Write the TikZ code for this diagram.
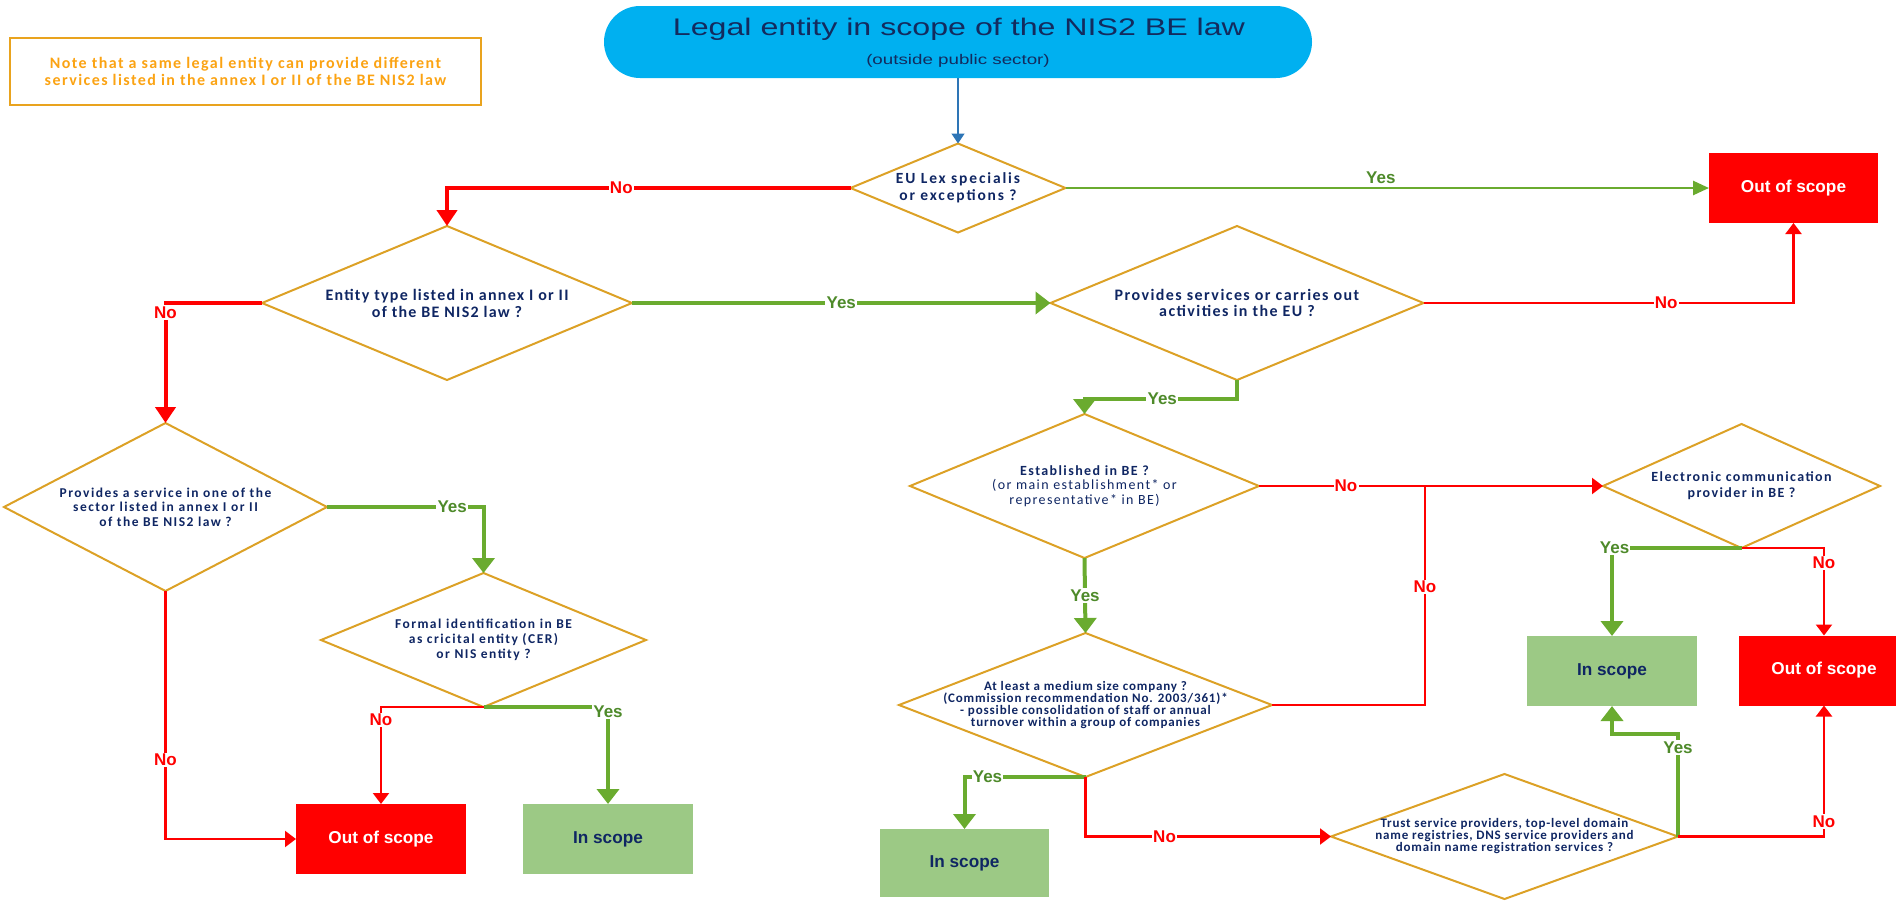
\documentclass[tikz,border=0pt]{standalone}
\usepackage{fontspec}
\usetikzlibrary{shapes.geometric,arrows.meta}
\newfontfamily\carfont{Carlito}
\newfontfamily\arfont{Liberation Sans}
% question text: size, leading, letter spacing
\newcommand\qfont[3]{\carfont\addfontfeatures{LetterSpace=#3}\bfseries\fontsize{#1}{#2}\selectfont}
\newcommand\labfont{\arfont\bfseries\fontsize{8.5pt}{10pt}\selectfont}
\definecolor{navy}{HTML}{0F2663}
\definecolor{titlenavy}{HTML}{132B5E}
\definecolor{gold}{HTML}{DCA126}
\definecolor{nored}{HTML}{FF0000}
\definecolor{yesgreen}{HTML}{6AAB2F}
\definecolor{yestext}{HTML}{4E8A2A}
\definecolor{scopegreen}{HTML}{9CC985}
\definecolor{sky}{HTML}{00B0F0}
\definecolor{flowblue}{HTML}{2E75B6}
\definecolor{noteorange}{HTML}{FBA313}
\definecolor{noteframe}{HTML}{E9A31E}
\begin{document}
\begin{tikzpicture}[x=0.5pt,y=-0.5pt,
  question/.style={shape=diamond, draw=gold, line width=1pt, inner sep=0pt, outer sep=0pt},
  qtext/.style={align=center, text=navy, inner sep=0pt},
  result/.style={rectangle, minimum width=85pt, minimum height=35pt, inner sep=0pt, outer sep=0pt,
    font=\arfont\bfseries\fontsize{8.6pt}{10pt}\selectfont},
  outscope/.style={result, fill=nored, text=white},
  inscope/.style={result, fill=scopegreen, text=navy},
  noline/.style={draw=nored, line width=1.1pt},
  nothin/.style={noline, -{Triangle[length=5.5pt,width=8pt]}},
  nothick/.style={draw=nored, line width=2pt, -{Triangle[length=8pt,width=10pt]}},
  yesthick/.style={draw=yesgreen, line width=2pt, -{Triangle[length=7.5pt,width=11pt]}},
  yesthin/.style={draw=yesgreen, line width=1.3pt, -{Triangle[length=8pt,width=7pt]}},
  nolab/.style={fill=white, text=nored, font=\labfont, inner sep=0.6pt},
  yeslab/.style={fill=white, text=yestext, font=\labfont, inner sep=0.6pt},
]
\useasboundingbox (0,0) rectangle (1896,900);

% note
\node[draw=noteframe, line width=1pt, minimum width=235.5pt, minimum height=33.5pt, inner sep=0pt,
  align=center, text=noteorange, font=\qfont{8pt}{8.5pt}{9}] (note) at (245.5,71.5)
  {Note that a same legal entity can provide different\\services listed in the annex I or II of the BE NIS2 law};

% start
\node[fill=sky, rounded corners=18pt, minimum width=354pt, minimum height=36pt, inner sep=0pt] (pill) at (958,42) {};
\node[anchor=base, text=titlenavy, inner sep=0pt,
  font=\arfont\addfontfeatures{FakeStretch=1.34}\fontsize{12pt}{14pt}\selectfont] (title) at (959,35)
  {Legal entity in scope of the NIS2 BE law};
\node[anchor=base, text=titlenavy, inner sep=0pt,
  font=\arfont\addfontfeatures{FakeStretch=1.34}\fontsize{7pt}{8pt}\selectfont] (subtitle) at (958,64)
  {(outside public sector)};

% questions
\node[question, minimum width=107.5pt, minimum height=44.5pt] (eulex) at (958,188) {};
\node[qtext, font=\qfont{7.75pt}{8.5pt}{12}] (eulex-q) at (eulex) {EU Lex specialis\\or exceptions ?};

\node[question, minimum width=185pt, minimum height=77pt] (entity) at (447,303) {};
\node[qtext, font=\qfont{8pt}{8.5pt}{8}] (entity-q) at (entity) {Entity type listed in annex I or II\\of the BE NIS2 law ?};

\node[question, minimum width=186.5pt, minimum height=77pt] (pveu) at (1237,303) {};
\node[qtext, font=\qfont{8pt}{8pt}{9}] (pveu-q) at (pveu) {Provides services or carries out\\activities in the EU ?};

\node[question, minimum width=161.5pt, minimum height=84pt] (psvc) at (165.5,507) {};
\node[qtext, font=\qfont{6.75pt}{7.25pt}{11}] (psvc-q) at (psvc) {Provides a service in one of the\\sector listed in annex I or II\\of the BE NIS2 law ?};

\node[question, minimum width=162.5pt, minimum height=67pt] (formal) at (483.5,640) {};
\node[qtext, font=\qfont{6.75pt}{7.4pt}{11}] (formal-q) at (formal) {Formal identification in BE\\as cricital entity (CER)\\or NIS entity ?};

\node[question, minimum width=174.5pt, minimum height=72pt] (est) at (1084.5,486) {};
\node[qtext, font=\qfont{7pt}{7.25pt}{10}] (est-q) at (est) {Established in BE ?\\{\mdseries (or main establishment* or}\\{\mdseries representative* in BE)}};

\node[question, minimum width=186.5pt, minimum height=72pt] (atl) at (1085.5,705) {};
\node[qtext, font=\qfont{6.5pt}{6.15pt}{6.5}] (atl-q) at (atl) {At least a medium size company ?\\(Commission recommendation No. 2003/361)*\\- possible consolidation of staff or annual\\turnover within a group of companies};

\node[question, minimum width=173.5pt, minimum height=62.5pt] (trust) at (1504.5,836.5) {};
\node[qtext, font=\qfont{6.5pt}{6pt}{6}] (trust-q) at (trust) {Trust service providers, top-level domain\\name registries, DNS service providers and\\domain name registration services ?};

\node[question, minimum width=138.5pt, minimum height=62pt] (elec) at (1741.5,486) {};
\node[qtext, font=\qfont{7pt}{8pt}{10}] (elec-q) at (elec) {Electronic communication\\provider in BE ?};

% outcomes
\node[outscope, minimum width=84.5pt] (outtop) at (1793.5,188) {Out of scope};
\node[outscope] (oosL) at (381,839) {Out of scope};
\node[inscope] (insL) at (608,839) {In scope};
\node[inscope, minimum width=84.5pt, minimum height=34pt] (insM) at (964.5,863) {In scope};
\node[inscope] (insR) at (1612,671) {In scope};
\node[outscope] (oosR) at (1824,670.5) {Out of scope};

\coordinate (jn) at (1425,486);

% connectors
\draw[flowblue, line width=0.7pt, -{Triangle[length=5pt,width=6.5pt]}] (pill.south) -- (eulex.north);
\draw[nothick] (eulex.west) -| node[nolab,pos=0.284]{No} (entity.north);
\draw[yesthin] (eulex.east) -- node[yeslab,fill=none,above=1pt,pos=0.49]{Yes} (outtop.west);
\draw[nothick] (entity.west) -| node[nolab,pos=0.54]{No} (psvc.north);
\draw[yesthick] (entity.east) -- node[yeslab]{Yes} (pveu.west);
\draw[nothin] (pveu.east) -| node[nolab,pos=0.328]{No} (outtop.south);
\draw[yesthick] (pveu.south) -- ++(0,19) -| node[yeslab,pos=0.245]{Yes} (est.north);
\draw[yesthick] (psvc.east) -| node[yeslab,pos=0.40]{Yes} (formal.north);
\draw[nothin] (psvc.south) |- node[nolab,pos=0.34]{No} (oosL.west);
\draw[nothin] (formal.south) -| node[nolab,pos=0.567]{No} (oosL.north);
\draw[yesthick] (formal.south) -| node[yeslab,pos=0.526]{Yes} (insL.north);
\draw[nothin] (est.east) -- node[nolab,pos=0.253]{No} (elec.west);
\draw[yesthick] (est.south) -- node[yeslab]{Yes} (atl.north);
\draw[noline] (atl.east) -| node[nolab,pos=0.77]{No} (jn);
\draw[yesthick] (atl.south) -| node[yeslab,pos=0.405]{Yes} (insM.north);
\draw[nothin] (atl.south) |- node[nolab,pos=0.661]{No} (trust.west);
\draw[yesthick] (elec.south) -| node[yeslab,pos=0.49]{Yes} (insR.north);
\draw[nothin] (elec.south) -| node[nolab,pos=0.587]{No} (oosR.north);
\draw[yesthick] (trust.east) -- ++(0,-103) node[yeslab,pos=0.864]{Yes} -| (insR.south);
\draw[nothin] (trust.east) -| node[nolab,pos=0.557]{No} (oosR.south);
\end{tikzpicture}
\end{document}
